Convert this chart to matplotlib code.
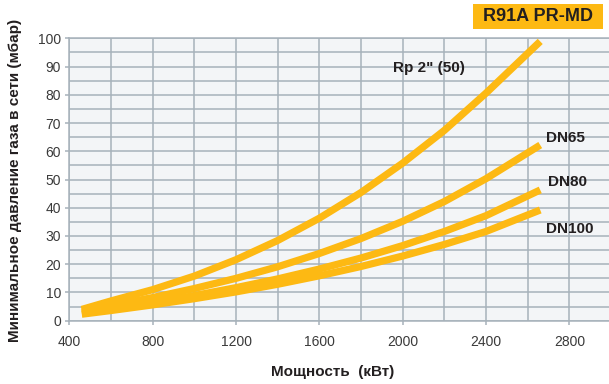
import matplotlib
matplotlib.use("Agg")
import matplotlib.pyplot as plt
from matplotlib.patches import Rectangle

# Data
power_kw = [460, 600, 800, 1000, 1200, 1400, 1600, 1800, 2000, 2200, 2400, 2660]
rp2_50 = [4.0, 7.0, 11.0, 15.8, 21.6, 28.4, 36.3, 45.4, 55.8, 67.4, 80.6, 98.9]
dn65 = [3.5, 5.3, 8.2, 11.4, 15.0, 19.1, 23.8, 29.1, 35.2, 42.2, 50.3, 62.2]
dn80 = [2.8, 4.2, 6.4, 8.9, 11.7, 14.8, 18.3, 22.2, 26.6, 31.6, 37.2, 46.3]
dn100 = [2.3, 3.6, 5.6, 7.8, 10.2, 12.9, 15.9, 19.2, 22.9, 27.0, 31.6, 39.2]
series_names = ['Rp 2" (50)', "DN65", "DN80", "DN100"]
label_pos = [(1953, 89.6), (2687, 64.7), (2697, 49.2), (2687, 32.5)]
x_ticks = [400, 800, 1200, 1600, 2000, 2400, 2800]
y_ticks = [0, 10, 20, 30, 40, 50, 60, 70, 80, 90, 100]
title = "R91A PR-MD"
xlabel = "Мощность  (кВт)"
ylabel = "Минимальное давление газа в сети (мбар)"

plt.rcParams['font.family'] = ['Liberation Sans', 'DejaVu Sans']

W, H = 609, 384
fig = plt.figure(figsize=(W / 100, H / 100), dpi=100)
ax = fig.add_axes([69.3 / W, (H - 320.7) / H, (W - 69.3) / W, (320.7 - 38.3) / H])

orange = "#FDB913"
grid_c = "#A7B2BA"
ax.set_facecolor("#F3F5F7")

ax.set_xlim(400, 2990)
ax.set_ylim(0, 100)

ax.set_xticks(x_ticks)
ax.set_xticks([x for x in range(600, 3000, 400)], minor=True)
ax.set_yticks(y_ticks)
ax.set_yticks([y for y in range(5, 100, 10)], minor=True)
ax.grid(True, which="both", color=grid_c, linewidth=1.1)
ax.set_axisbelow(True)

ax.tick_params(which="major", length=3, width=1.1, color=grid_c,
               labelsize=10, labelcolor="#3A3A3A")
ax.tick_params(axis="x", which="major", pad=7)
ax.tick_params(axis="y", which="major", pad=3)
ax.tick_params(which="minor", length=0)

for s in ["left", "top", "bottom"]:
    ax.spines[s].set_color(grid_c)
    ax.spines[s].set_linewidth(1.1)
ax.spines["right"].set_visible(False)

for ys in [rp2_50, dn65, dn80, dn100]:
    ax.plot(power_kw, ys, color=orange, linewidth=5.2, solid_capstyle="butt",
            solid_joinstyle="round", zorder=3)

for name, (lx, ly) in zip(series_names, label_pos):
    ax.text(lx, ly, name, fontsize=11, fontweight="bold", color="#231F20",
            ha="left", va="center", zorder=4)

fig.text(333 / W, 1 - 372 / H, xlabel, fontsize=11, fontweight="bold",
         color="#231F20", ha="center", va="center")
fig.text(15 / W, 1 - 180 / H, ylabel, fontsize=11, fontweight="bold",
         color="#231F20", ha="center", va="center", rotation=90)

fig.patches.append(Rectangle((473 / W, 1 - 29 / H), 130 / W, 25 / H,
                             transform=fig.transFigure, facecolor=orange,
                             edgecolor="none"))
fig.text(538 / W, 1 - 16.5 / H, title, fontsize=13, fontweight="bold",
         color="#231F20", ha="center", va="center")

fig.savefig("out.png", dpi=100)
